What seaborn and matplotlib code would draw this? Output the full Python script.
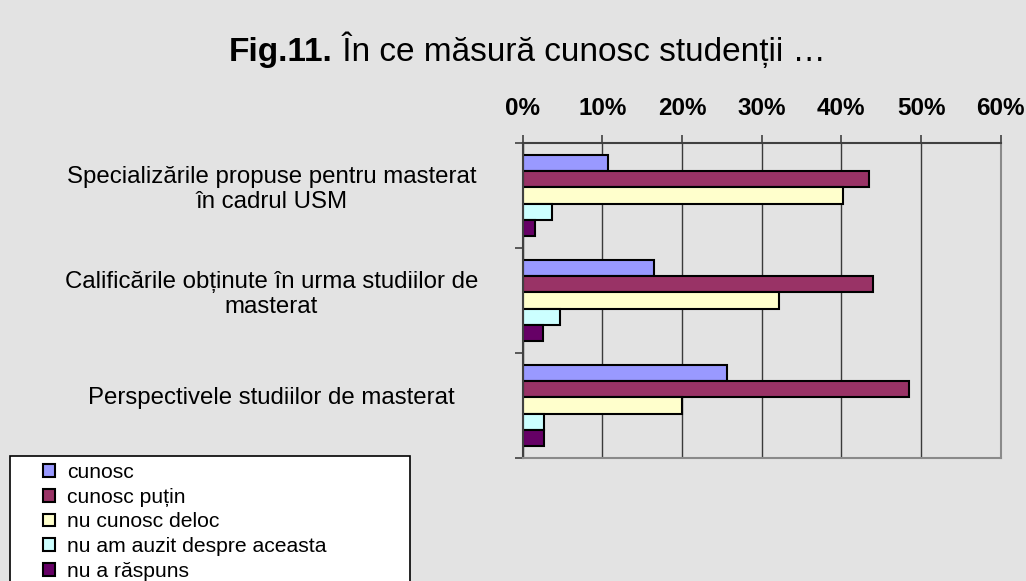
import pandas as pd
import seaborn as sns
import matplotlib.pyplot as plt
from matplotlib.patches import Rectangle
from matplotlib.ticker import FuncFormatter
import matplotlib.transforms as mtransforms

# Data (percent of respondents)
categories = [
    "Specializările propuse pentru masterat\nîn cadrul USM",
    "Calificările obținute în urma studiilor de\nmasterat",
    "Perspectivele studiilor de masterat",
]
series = ["cunosc", "cunosc puțin", "nu cunosc deloc",
          "nu am auzit despre aceasta", "nu a răspuns"]
cunosc = [10.7, 16.5, 25.7]
cunosc_putin = [43.5, 44.0, 48.5]
nu_cunosc = [40.2, 32.2, 20.0]
nu_am_auzit = [3.7, 4.7, 2.7]
nu_a_raspuns = [1.5, 2.5, 2.7]
colors = ["#9999FF", "#993366", "#FFFFCC", "#CCFFFF", "#660066"]

rows = []
for s, vals in zip(series, [cunosc, cunosc_putin, nu_cunosc, nu_am_auzit, nu_a_raspuns]):
    for c, v in zip(categories, vals):
        rows.append({"categorie": c, "serie": s, "procent": v})
df = pd.DataFrame(rows)

sns.set_style("white")
plt.rcParams["font.family"] = ["Liberation Sans", "DejaVu Sans"]
plt.rcParams["text.color"] = "black"
plt.rcParams["xtick.labelcolor"] = "black"
plt.rcParams["ytick.labelcolor"] = "black"

W, H = 1026, 581
fig = plt.figure(figsize=(W / 100, H / 100), dpi=100, facecolor="#e3e3e3")
ax = fig.add_axes([522.7 / W, 1 - 458 / H, (1000.7 - 522.7) / W, (458 - 143) / H])
ax.set_facecolor("none")

sns.barplot(data=df, y="categorie", x="procent", hue="serie", hue_order=series,
            order=categories, orient="h", palette=colors, saturation=1,
            width=0.77, edgecolor="black", linewidth=1.5, legend=False, ax=ax)

ax.set_xlim(0, 60)
ax.set_ylim(2.5, -0.5)
ax.set_xlabel("")
ax.set_ylabel("")

# x axis on top, bold percent labels
ax.xaxis.tick_top()
ax.set_xticks(range(0, 61, 10))
ax.xaxis.set_major_formatter(FuncFormatter(lambda x, p: f"{x:.0f}%"))
ax.tick_params(axis="x", which="major", direction="out", length=6, width=1.2,
               color="#404040", pad=10.5, labelsize=17.5, top=True, bottom=False)
for t in ax.get_xticklabels():
    t.set_fontweight("bold")
ax.grid(axis="x", color="#3a3a3a", linewidth=1)
ax.set_axisbelow(True)

# y axis: labels centred, small ticks at category boundaries
ax.set_yticks([0, 1, 2])
ax.set_yticklabels(categories, ha="center", fontsize=17.3, linespacing=1.15)
ax.tick_params(axis="y", which="major", length=0, pad=181)
ax.set_yticks([-0.5, 0.5, 1.5, 2.5], minor=True)
ax.tick_params(axis="y", which="minor", direction="out", length=6, width=1.2,
               color="#404040", left=True)
offset = mtransforms.ScaledTranslation(0, 10 / 100, fig.dpi_scale_trans)
for t in ax.get_yticklabels():
    t.set_transform(t.get_transform() + offset)

for side in ["top", "left"]:
    ax.spines[side].set_color("#404040")
    ax.spines[side].set_linewidth(1.5)
for side in ["bottom", "right"]:
    ax.spines[side].set_visible(True)
    ax.spines[side].set_color("#8a8a8a")
    ax.spines[side].set_linewidth(1.5)

# title: bold "Fig.11." followed by normal text on the same baseline
ty = 1 - 61 / H
t1 = fig.text(229 / W, ty, "Fig.11.", fontsize=24, fontweight="bold",
              ha="left", va="baseline")
fig.canvas.draw()
bb = t1.get_window_extent(fig.canvas.get_renderer())
fig.text(bb.x1 / W, ty, " În ce măsură cunosc studenții …", fontsize=24,
         ha="left", va="baseline")

# legend box at bottom left
fig.patches.append(Rectangle((10 / W, -0.05), 400 / W, 0.05 + 1 - 456 / H,
                             transform=fig.transFigure, facecolor="white",
                             edgecolor="black", linewidth=1.2, zorder=0))
leg = fig.legend(ax.containers, series, loc="upper left",
                 bbox_to_anchor=(43 / W, 1 - 463 / H), frameon=False,
                 fontsize=15.2, labelspacing=0.27, handlelength=0.55,
                 handleheight=0.55, handletextpad=0.6, borderpad=0,
                 borderaxespad=0)

fig.savefig("out.png", dpi=100, facecolor=fig.get_facecolor())
